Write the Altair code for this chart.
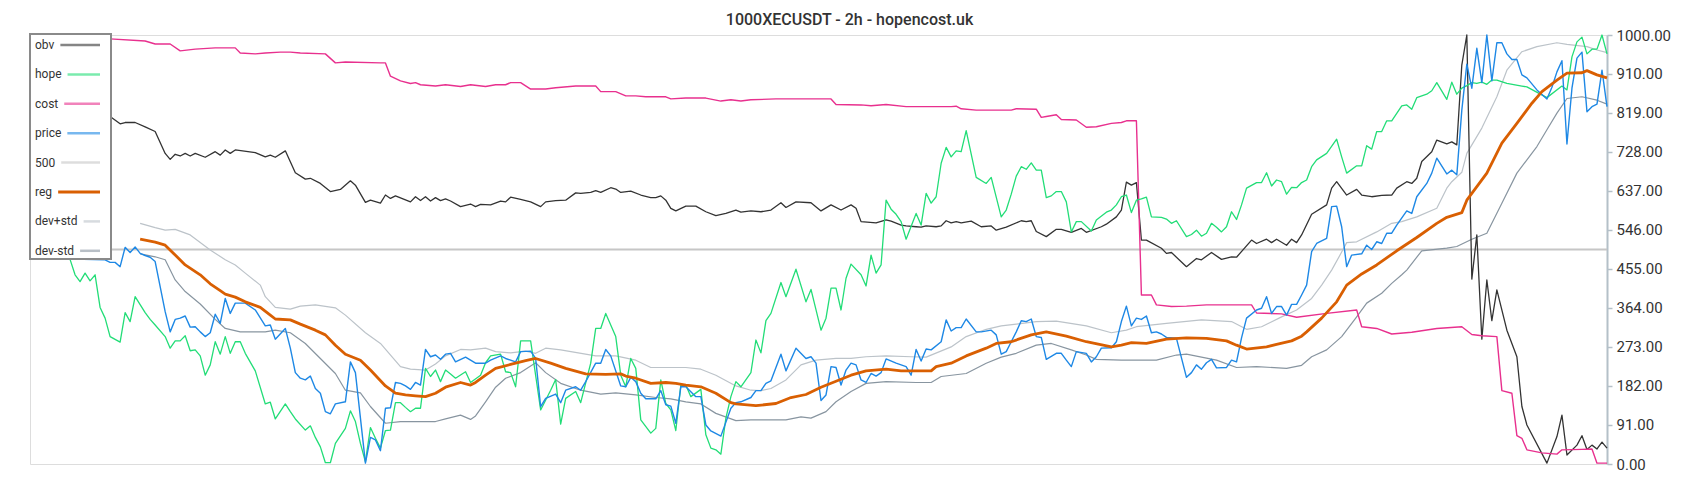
import altair as alt
import pandas as pd

# ---------------- data (candle index, normalised 0-1000 value) ----------------
TITLE = "1000XECUSDT - 2h - hopencost.uk"
SERIES = ["obv", "hope", "cost", "price", "500", "reg", "dev+std", "dev-std"]
Y_TICKS = [0, 91, 182, 273, 364, 455, 546, 637, 728, 819, 910, 1000]
X_MAX = 315
LEVEL_500 = 500

cost_x = [0,16,23,25,28,30,33,37,41,42,45,47,50,52,54,59,61,63,70,71,72,74,76,77,78,81,83,86,88,91,
          93,95,96,98,100,103,105,109,113,114,117,119,121,123,127,128,131,135,138,140,142,144,149,160,161,166,168,171,175,184,
          185,186,189,196,197,201,202,203,205,206,209,211,213,216,218,219,221,222,224,225,228,231,235,244,245,250,253,259,265,266,
          269,272,276,281,286,288,290,293,294,296,297,298,299,302,305,306,310,312,313,315]
cost_v = [995,991,986,979,979,963,967,970,970,958,956,958,960,960,958,956,935,937,935,935,904,893,887,889,884,881,884,880,884,880,
          884,884,889,889,874,874,877,881,881,868,868,858,858,856,856,851,853,853,846,849,846,849,851,851,838,837,835,838,833,833,
          834,828,825,825,828,827,808,810,814,803,802,785,786,794,796,800,800,394,394,371,367,368,371,371,352,350,342,351,359,320,
          316,303,307,316,320,302,299,297,171,165,66,60,33,26,23,33,34,35,2,2]

obv_x = [0,16,18,19,21,23,25,27,28,29,30,31,32,33,35,37,38,39,40,41,45,47,48,49,51,53,55,56,58,60,
         62,64,65,67,68,70,71,72,73,76,77,78,79,80,81,82,83,84,86,88,89,90,92,94,95,96,98,100,102,103,
         105,107,109,110,112,113,114,116,117,118,120,122,124,125,126,127,128,129,131,133,135,137,139,141,142,144,146,148,150,151,
         153,156,158,160,162,164,165,166,169,171,172,174,175,177,178,179,181,182,183,184,185,186,188,190,192,193,195,198,199,200,
         201,203,205,206,208,210,211,214,215,217,218,219,220,221,222,223,226,227,228,231,233,234,236,238,240,241,244,245,247,248,
         249,251,252,253,254,256,259,260,261,263,265,266,268,270,272,273,275,276,277,278,280,281,283,284,285,286,287,288,289,290,
         291,292,293,295,297,298,299,303,305,306,307,309,310,311,312,313,314,315]
obv_v = [820,810,793,796,796,786,775,724,710,722,718,724,718,724,715,728,720,732,724,732,726,716,720,715,730,679,664,666,654,635,
         640,660,650,610,615,608,627,619,625,611,623,614,623,613,621,614,618,613,600,606,600,605,604,613,611,622,617,611,600,611,
         614,615,632,631,633,637,633,644,641,633,636,627,621,621,625,615,596,590,601,601,588,579,584,592,587,590,588,592,609,598,
         611,609,590,604,592,604,596,565,562,569,566,557,555,553,552,555,553,555,567,562,565,562,566,553,555,545,552,567,565,567,
         542,530,547,547,540,549,540,553,559,576,592,657,650,656,522,522,503,491,493,460,479,476,493,477,483,482,522,514,524,516,
         524,510,524,516,534,582,604,643,658,627,640,627,623,626,627,643,658,654,666,705,728,755,746,751,744,930,1000,431,534,291,
         429,334,406,312,250,134,91,2,64,114,21,44,66,34,44,35,51,37]

price_x = [0,15,16,17,18,19,20,21,22,23,24,25,27,28,29,30,31,32,33,34,35,36,37,38,39,40,41,43,45,47,
           48,49,51,52,53,54,55,56,57,58,59,60,61,63,64,65,67,68,69,70,71,72,73,74,75,76,77,78,79,80,
           81,82,83,84,85,87,89,91,92,94,95,97,98,100,101,102,103,105,106,107,109,110,111,113,114,115,116,118,119,120,
           121,122,123,125,126,127,128,129,130,131,133,134,135,136,138,140,141,142,144,145,146,147,148,150,151,153,155,156,157,158,
           159,160,161,162,163,164,165,166,167,168,169,170,171,173,175,176,177,178,179,180,182,183,184,185,186,187,189,190,192,193,
           194,195,196,197,198,199,200,201,202,203,205,206,207,208,209,211,212,213,214,216,217,218,219,220,221,222,223,224,225,226,
           227,229,231,232,233,234,235,236,237,239,240,241,242,243,245,246,247,248,249,250,251,252,253,254,255,256,257,259,260,261,
           262,263,264,266,267,268,269,270,271,272,273,275,276,277,279,280,281,283,284,285,286,287,288,289,290,291,292,293,294,295,
           296,297,298,299,301,303,304,305,306,307,308,309,310,311,312,313,314,315]
price_v = [480,476,470,470,460,505,493,506,491,486,482,472,355,308,337,340,345,319,320,308,297,306,349,328,386,351,375,375,359,322,
           324,291,316,270,213,200,196,205,176,165,122,117,140,145,238,213,2,62,56,31,130,131,190,188,182,174,190,184,267,250,
           254,244,256,258,238,249,235,235,242,252,246,238,262,263,246,134,153,163,143,172,180,172,192,235,235,267,252,182,180,202,
           192,165,152,152,171,138,135,95,180,180,157,157,91,77,65,130,143,145,155,171,171,188,194,256,217,270,246,250,235,148,
           161,227,225,184,219,235,231,196,190,211,205,213,245,235,227,207,267,240,268,266,285,336,310,318,318,338,308,308,312,301,
           256,262,285,308,334,332,338,297,295,244,258,258,242,227,262,258,238,250,270,271,285,332,368,322,340,337,345,306,308,303,
           295,293,202,213,231,221,236,244,224,225,242,238,294,340,359,363,390,351,367,367,347,372,372,394,417,495,514,526,600,601,
           553,460,487,490,510,500,518,514,538,538,557,590,584,623,654,678,713,676,685,674,825,932,876,969,889,1000,893,982,982,956,
           943,943,907,900,872,851,878,914,940,746,876,946,960,821,833,839,918,833]

hope_x = [0,8,9,10,11,12,13,14,15,16,18,19,20,21,23,24,25,27,28,29,30,31,32,33,34,35,36,37,38,39,
          40,41,42,43,45,47,48,49,51,52,53,55,56,57,58,59,60,61,63,64,65,66,67,68,69,70,71,72,73,74,
          75,76,77,78,79,80,81,82,83,84,85,87,88,90,91,92,94,95,96,97,98,100,102,104,105,106,107,109,110,112,
          113,114,115,117,118,119,120,121,122,124,125,126,127,128,129,130,131,132,134,135,136,137,138,139,140,141,142,144,145,146,
          147,148,150,151,153,155,156,158,159,160,161,162,163,164,166,167,168,169,170,171,172,173,174,175,177,178,179,180,181,182,
          183,184,185,186,187,189,191,192,194,195,196,197,198,199,200,201,202,203,204,205,206,207,208,209,210,212,213,215,216,217,
          218,219,220,221,222,223,224,226,227,228,229,231,232,233,234,235,236,237,238,239,240,241,242,243,245,246,247,248,249,250,
          251,252,253,254,255,256,257,259,261,262,263,265,266,267,268,269,270,271,272,274,275,276,277,279,280,281,283,284,285,286,
          287,288,289,290,291,292,293,295,298,299,303,306,307,308,309,310,311,312,313,314,315]
hope_v = [530,477,441,425,445,427,441,365,340,297,284,353,332,390,353,337,324,297,270,287,287,299,264,266,252,207,231,285,256,297,
          258,285,285,258,217,140,144,105,140,122,105,79,89,62,40,3,3,48,83,124,99,48,5,85,60,37,78,79,143,143,
          132,122,130,130,223,204,219,192,219,210,200,215,190,207,236,252,256,215,213,180,287,287,126,172,197,93,153,169,143,235,
          316,316,351,297,207,180,246,223,103,72,83,196,141,126,78,184,184,157,174,68,37,33,23,107,157,192,180,213,289,259,
          334,351,423,390,454,378,407,312,340,410,410,359,433,466,441,415,487,445,464,615,594,582,565,524,584,557,631,608,623,701,
          738,716,730,728,777,668,654,668,576,592,629,671,693,687,702,685,685,621,625,635,635,611,541,565,565,543,569,587,592,604,
          623,627,586,615,618,622,576,575,571,561,567,530,535,545,531,538,561,552,541,553,588,570,604,643,656,656,679,648,662,658,
          629,645,644,656,662,693,709,724,757,716,678,695,695,742,734,775,775,800,800,835,837,827,854,862,870,889,850,890,862,876,
          882,889,887,890,885,895,895,887,881,879,854,881,872,949,984,995,956,967,967,1000,956]

reg_x = [22,25,27,29,31,34,36,38,39,41,43,46,48,49,52,54,57,59,61,63,66,68,71,73,75,77,79,81,83,86,
         88,89,91,93,96,99,101,104,107,111,115,118,119,121,124,127,129,131,134,137,140,141,145,149,152,155,158,161,164,167,
         171,174,180,181,184,187,191,193,196,200,203,207,211,216,218,220,223,227,231,235,239,241,243,247,249,252,254,255,258,261,
         263,266,269,273,277,281,283,286,287,291,294,297,300,302,305,307,310,311,313,315]
reg_v = [524,517,510,487,464,441,420,404,396,389,378,365,347,338,336,326,312,301,277,256,242,219,182,165,161,159,157,165,179,190,
         184,190,207,223,232,241,246,235,223,210,209,210,205,200,188,190,188,184,180,165,143,140,136,141,155,162,179,193,207,217,
         221,217,217,227,235,252,270,281,285,301,308,298,285,273,277,283,281,291,294,293,287,277,268,273,279,287,298,308,340,378,
         417,443,464,497,528,561,575,586,615,678,748,794,841,868,895,911,912,917,907,900]

dev_hi_x = [22,25,27,29,32,36,39,41,43,46,47,49,52,54,57,61,63,67,70,74,76,79,81,83,86,88,91,93,96,99,
            101,103,106,113,117,121,124,131,134,137,141,144,146,148,151,154,157,161,164,167,171,176,179,184,187,191,194,197,201,205,
            211,216,219,221,227,234,240,243,246,250,253,256,258,260,262,263,265,269,272,274,277,281,283,284,286,287,290,293,295,298,
            301,305,307,311,313,315]
dev_hi_v = [561,551,545,547,534,499,476,464,445,417,390,365,361,368,371,364,347,306,281,227,221,219,233,252,267,266,270,262,259,263,
            258,270,266,252,252,242,225,225,221,207,182,172,171,176,196,231,242,246,246,250,252,250,249,273,297,314,322,326,332,333,
            322,306,312,320,328,336,332,314,320,343,359,386,417,452,494,516,518,541,561,565,576,596,643,658,680,724,783,856,918,961,
            973,982,978,973,965,959]

dev_lo_x = [22,25,27,29,31,34,37,39,42,47,49,52,55,58,61,63,66,68,71,74,78,81,83,86,88,89,91,93,95,98,
            101,103,106,110,114,117,121,125,128,131,134,137,141,144,151,154,156,159,161,164,167,171,177,180,182,187,191,194,197,201,
            204,208,211,213,218,225,229,231,237,241,245,251,254,256,259,262,265,267,270,272,274,275,278,283,285,288,291,294,297,301,
            303,305,307,310,313,315]
dev_lo_v = [490,483,476,429,402,373,337,316,308,308,312,306,281,246,211,172,166,134,95,99,99,99,105,114,104,112,145,179,200,213,
            236,213,188,172,163,166,161,155,152,145,140,118,101,103,103,110,107,122,145,169,188,192,190,190,204,211,235,249,258,277,
            281,266,254,244,242,242,254,256,242,225,227,223,230,250,266,297,343,375,398,421,441,452,497,503,507,524,538,608,678,740,
            779,818,852,856,848,839]

# ---------------- styling ----------------
COLORS = {
    "obv": "#333333", "hope": "#22dd77", "cost": "#e8308e", "price": "#1e88e5",
    "500": "#c6c6c6", "reg": "#d95f02", "dev+std": "#bcc3c9", "dev-std": "#8895a0",
}
WIDTHS = {"obv": 1.3, "hope": 1.3, "cost": 1.4, "price": 1.4, "500": 2,
          "reg": 2.8, "dev+std": 1.2, "dev-std": 1.2}

W, H = 1577, 429
FONT = "Roboto"

xscale = alt.Scale(domain=[0, X_MAX], nice=False, zero=False)
yscale = alt.Scale(domain=[0, 1000], nice=False, zero=True)

y_axis = alt.Axis(orient="right", values=Y_TICKS, format=".2f", title=None, grid=False,
                  labelFont=FONT, labelFontSize=15, labelColor="#333333", labelPadding=4,
                  domainColor="#b4c0c8", domainWidth=2, tickColor="#b4c0c8", tickWidth=1.5,
                  tickSize=5)


def line_layer(name, xs, vs, axis=None):
    n = min(len(xs), len(vs))
    df = pd.DataFrame({"i": xs[:n], "v": vs[:n], "seq": list(range(n))})
    return alt.Chart(df).mark_line(color=COLORS[name], strokeWidth=WIDTHS[name],
                                   strokeJoin="round").encode(
        x=alt.X("i:Q", scale=xscale, axis=None),
        y=alt.Y("v:Q", scale=yscale, axis=axis),
        order=alt.Order("seq:Q"),
    )


level_layer = line_layer("500", [0, X_MAX], [LEVEL_500, LEVEL_500], axis=y_axis)
layers = [
    level_layer,
    line_layer("dev+std", dev_hi_x, dev_hi_v),
    line_layer("dev-std", dev_lo_x, dev_lo_v),
    line_layer("obv", obv_x, obv_v),
    line_layer("cost", cost_x, cost_v),
    line_layer("hope", hope_x, hope_v),
    line_layer("price", price_x, price_v),
    line_layer("reg", reg_x, reg_v),
]

# ---------------- legend (drawn inside the plot, top-left) ----------------
CHAR_EM = {"o": .570, "b": .561, "v": .484, "h": .551, "p": .561, "e": .530, "c": .523,
           "s": .516, "t": .327, "r": .338, "i": .243, "5": .562, "0": .562, "g": .561,
           "d": .563, "+": .567, "-": .276}
LEG_FS = 12
leg_rows = []
for k, name in enumerate(SERIES):
    tw = sum(CHAR_EM.get(ch, .55) for ch in name) * LEG_FS
    leg_rows.append({
        "name": name, "color": COLORS[name],
        "tx": 5, "ty": 10 + 29.4 * k,
        "sx1": 5 + tw + 6, "sx2": 70,
        "sw": 3 if name == "reg" else 2.5,
        "op": 1.0 if name == "reg" else 0.6,
    })
leg_df = pd.DataFrame(leg_rows)

leg_box = alt.Chart(pd.DataFrame({"a": [0]})).mark_rect(
    fill="white", stroke="#8a8a8a", strokeWidth=2).encode(
    x=alt.value(0), x2=alt.value(81), y=alt.value(-1), y2=alt.value(224))

leg_text = alt.Chart(leg_df).mark_text(align="left", baseline="middle", font=FONT,
                                       fontSize=LEG_FS, color="#333333").encode(
    x=alt.X("tx:Q", scale=None, axis=None),
    y=alt.Y("ty:Q", scale=None, axis=None),
    text="name:N",
)

leg_sym = alt.Chart(leg_df).mark_rule().encode(
    x=alt.X("sx1:Q", scale=None, axis=None),
    x2="sx2:Q",
    y=alt.Y("ty:Q", scale=None, axis=None),
    color=alt.Color("color:N", scale=None, legend=None),
    strokeWidth=alt.StrokeWidth("sw:Q", scale=None, legend=None),
    opacity=alt.Opacity("op:Q", scale=None, legend=None),
)

chart = alt.layer(*layers, leg_box, leg_text, leg_sym).resolve_scale(
    x="independent", y="independent"
).properties(
    width=W, height=H,
    title=alt.TitleParams(TITLE, font=FONT, fontSize=16, fontWeight=500, color="#333333",
                          anchor="middle", offset=0, dx=31),
    autosize=alt.AutoSizeParams(type="none"),
    padding={"left": 22, "top": 27, "right": 77, "bottom": 20},
).configure_view(stroke=None).configure(background="white")

chart.save("out.html", embed_options={"renderer": "svg", "actions": False})
